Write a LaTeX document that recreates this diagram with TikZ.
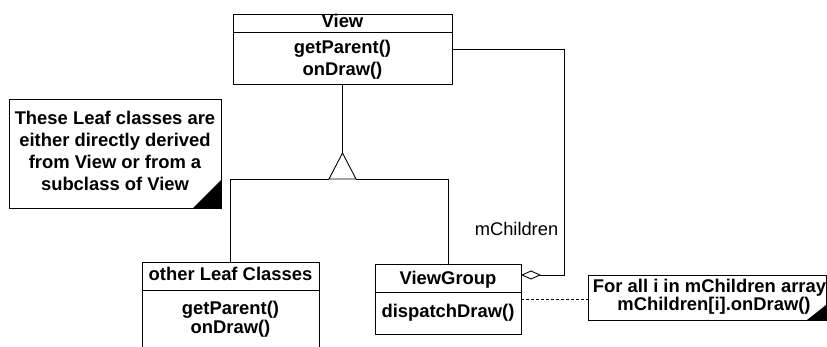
\documentclass[tikz,border=0pt]{standalone}
\usepackage{fontspec}
\setmainfont{Liberation Sans}
\usetikzlibrary{arrows.meta}
\begin{document}
\begin{tikzpicture}[x=1pt,y=-1pt,
  line width=0.9pt,
  box/.style={draw, rectangle, anchor=north west, inner sep=0pt, outer sep=0pt},
  txt/.style={font=\bfseries\fontsize{18.4}{22}\selectfont, align=center, inner sep=0pt, anchor=base},
  txttight/.style={font=\bfseries\fontsize{18.4}{18}\selectfont, align=center, inner sep=0pt, anchor=base},
  plain/.style={font=\fontsize{18.3}{22}\selectfont, inner sep=0pt, anchor=base},
  anchorline/.style={line width=0.8pt, dash pattern=on 3pt off 2pt},
]
\clip (0,0) rectangle (827,347);
\fill[white] (0,0) rectangle (827,347);

% class View (multi-line nodes are placed by the baseline of their last line)
\node[box, minimum width=219pt, minimum height=70pt] (view) at (233,14) {};
\draw ([yshift=-18pt]view.north west) -- ([yshift=-18pt]view.north east);
\node[txt] (viewname) at (342.5,28) {View};
\node[txt] (viewops) at (342.5,75.5) {getParent()\\onDraw()};

% class other Leaf Classes
\node[box, minimum width=177pt, minimum height=100pt] (leaf) at (142,262) {};
\draw ([yshift=-28pt]leaf.north west) -- ([yshift=-28pt]leaf.north east);
\node[txt] (leafname) at (230.5,281) {other Leaf Classes};
\node[txttight] (leafops) at (230.5,333) {getParent()\\onDraw()};

% class ViewGroup
\node[box, minimum width=146pt, minimum height=70pt] (vg) at (375,264) {};
\draw ([yshift=-28pt]vg.north west) -- ([yshift=-28pt]vg.north east);
\node[txt] (vgname) at (448,284) {ViewGroup};
\node[txt] (vgops) at (448,317) {dispatchDraw()};

% note on the leaf classes
\node[box, minimum width=212pt, minimum height=109pt] (note1) at (9,99) {};
\fill (note1.south east) -- ++(-28pt,0) -- ++(28pt,28pt) -- cycle;
\node[txt] (note1text) at (115,190.5) {These Leaf classes are\\either directly derived\\from View or from a\\subclass of View};

% note on dispatchDraw
\node[box, minimum width=238pt, minimum height=45pt] (note2) at (588,275) {};
\fill (note2.south east) -- ++(-19pt,0) -- ++(19pt,15pt) -- cycle;
\node[txt] (note2a) at (709.5,292.5) {For all i in mChildren array};
\node[txt] (note2b) at (714,310) {mChildren[i].onDraw()};

% generalization
\coordinate (genapex) at (342.5,153);
\coordinate (genbase) at (342.5,179);
\draw (view.south) -- (genapex);
\draw (genapex) -- ([xshift=-13.5pt]genbase) -- ([xshift=13.5pt]genbase) -- cycle;
\draw (leaf.north) |- ([xshift=-13.5pt]genbase);
\draw ([xshift=13.5pt]genbase) -| (vg.north);

% aggregation mChildren
\coordinate (aggturn) at (564,275);
\draw[-{Diamond[open,length=20pt,width=9pt,line width=0.9pt]}] (view.east) -| (aggturn) -- ([yshift=-11pt]vg.north east);
\node[plain] (aggname) at (516.5,236) {mChildren};

% note anchor
\draw[anchorline] (vg.east) -- (note2.west |- vg.east);
\end{tikzpicture}
\end{document}
